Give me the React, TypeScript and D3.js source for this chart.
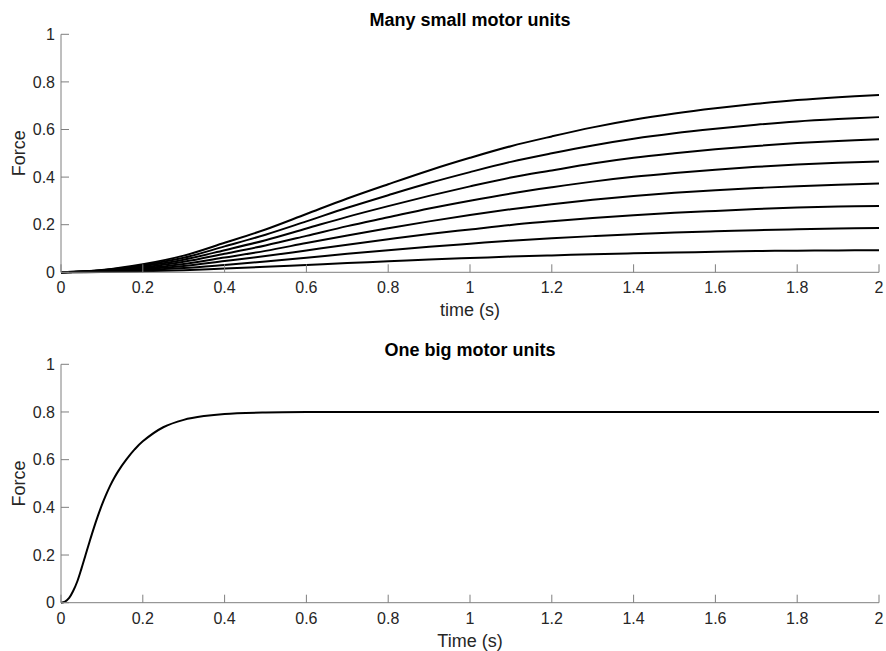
import React from "react";
import * as d3 from "d3";

// ---- Data ----
const timeSmall = [0, 0.1, 0.2, 0.3, 0.4, 0.5, 0.6, 0.7, 0.8, 0.9, 1.0, 1.1, 1.2, 1.3, 1.4, 1.5, 1.6, 1.7, 1.8, 1.9, 2.0];

const unit8 = [0, 0.010, 0.034, 0.070, 0.124, 0.180, 0.245, 0.310, 0.370, 0.428, 0.481, 0.530, 0.571, 0.609, 0.641, 0.667, 0.689, 0.708, 0.724, 0.736, 0.745];
const unit7 = [0, 0.009, 0.030, 0.061, 0.109, 0.158, 0.214, 0.271, 0.324, 0.375, 0.421, 0.464, 0.500, 0.533, 0.561, 0.584, 0.603, 0.620, 0.634, 0.644, 0.652];
const unit6 = [0, 0.008, 0.026, 0.053, 0.093, 0.135, 0.184, 0.233, 0.278, 0.321, 0.361, 0.398, 0.428, 0.457, 0.481, 0.500, 0.517, 0.531, 0.543, 0.552, 0.559];
const unit5 = [0, 0.006, 0.021, 0.044, 0.078, 0.113, 0.153, 0.194, 0.231, 0.268, 0.301, 0.331, 0.357, 0.381, 0.401, 0.417, 0.431, 0.443, 0.453, 0.460, 0.466];
const unit4 = [0, 0.005, 0.017, 0.035, 0.062, 0.090, 0.123, 0.155, 0.185, 0.214, 0.241, 0.265, 0.286, 0.305, 0.321, 0.334, 0.345, 0.354, 0.362, 0.368, 0.373];
const unit3 = [0, 0.004, 0.013, 0.026, 0.047, 0.068, 0.092, 0.116, 0.139, 0.161, 0.180, 0.199, 0.214, 0.228, 0.240, 0.250, 0.258, 0.266, 0.272, 0.276, 0.279];
const unit2 = [0, 0.003, 0.009, 0.018, 0.031, 0.045, 0.061, 0.078, 0.093, 0.107, 0.120, 0.133, 0.143, 0.152, 0.160, 0.167, 0.172, 0.177, 0.181, 0.184, 0.186];
const unit1 = [0, 0.001, 0.004, 0.009, 0.016, 0.023, 0.031, 0.039, 0.046, 0.054, 0.060, 0.066, 0.071, 0.076, 0.080, 0.083, 0.086, 0.089, 0.091, 0.092, 0.093];

const smallSeries = [unit1, unit2, unit3, unit4, unit5, unit6, unit7, unit8];

const timeBig = [0, 0.01, 0.02, 0.03, 0.04, 0.05, 0.06, 0.07, 0.08, 0.09, 0.10, 0.11, 0.12, 0.13, 0.14, 0.16, 0.18, 0.20, 0.25, 0.30, 0.35, 0.40, 0.50, 0.60, 0.80, 1.0, 1.5, 2.0];
const bigUnit = [0, 0.005, 0.02, 0.05, 0.09, 0.143, 0.20, 0.257, 0.312, 0.363, 0.41, 0.452, 0.49, 0.523, 0.552, 0.601, 0.643, 0.677, 0.736, 0.767, 0.783, 0.792, 0.798, 0.800, 0.800, 0.800, 0.800, 0.800];

const xTicks = [0, 0.2, 0.4, 0.6, 0.8, 1, 1.2, 1.4, 1.6, 1.8, 2];
const yTicks = [0, 0.2, 0.4, 0.6, 0.8, 1];

const titleTop = "Many small motor units";
const titleBottom = "One big motor units";
const xLabelTop = "time (s)";
const xLabelBottom = "Time (s)";
const yLabel = "Force";

// ---- Layout ----
const W = 886;
const H = 651;
const left = 61;
const right = 879;
const FONT = "'Liberation Sans', Arial, Helvetica, sans-serif";
const AXIS = "#7f7f7f";
const TEXT = "#262626";

type PanelProps = {
  top: number;
  bottom: number;
  title: string;
  xLabel: string;
  series: { t: number[]; v: number[] }[];
};

function Panel({ top, bottom, title, xLabel, series }: PanelProps) {
  const x = d3.scaleLinear().domain([0, 2]).range([left, right]);
  const y = d3.scaleLinear().domain([0, 1]).range([bottom, top]);
  const line = d3
    .line<[number, number]>()
    .x((d) => x(d[0]))
    .y((d) => y(d[1]))
    .curve(d3.curveCatmullRom.alpha(0.5));
  const tick = 8;
  const fmt = (v: number) => String(v);
  return (
    <g>
      {series.map((s, i) => (
        <path
          key={i}
          d={line(s.t.map((t, j) => [t, s.v[j]] as [number, number])) || ""}
          fill="none"
          stroke="#000"
          strokeWidth={2}
          strokeLinejoin="round"
        />
      ))}
      {/* axes */}
      <line x1={left} x2={right} y1={bottom} y2={bottom} stroke={AXIS} strokeWidth={1} />
      <line x1={left} x2={left} y1={top} y2={bottom} stroke={AXIS} strokeWidth={1} />
      {xTicks.map((t) => (
        <g key={"x" + t}>
          <line x1={x(t)} x2={x(t)} y1={bottom} y2={bottom - tick} stroke={AXIS} strokeWidth={1} />
          <text
            x={x(t)}
            y={bottom + 21}
            textAnchor="middle"
            fontSize={16}
            fontFamily={FONT}
            fill={TEXT}
          >
            {fmt(t)}
          </text>
        </g>
      ))}
      {yTicks.map((t) => (
        <g key={"y" + t}>
          <line x1={left} x2={left + tick} y1={y(t)} y2={y(t)} stroke={AXIS} strokeWidth={1} />
          <text
            x={left - 6}
            y={y(t)}
            dy="0.35em"
            textAnchor="end"
            fontSize={16}
            fontFamily={FONT}
            fill={TEXT}
          >
            {fmt(t)}
          </text>
        </g>
      ))}
      <text
        x={(left + right) / 2}
        y={top - 8}
        textAnchor="middle"
        fontSize={18}
        fontWeight="bold"
        fontFamily={FONT}
        fill="#000"
      >
        {title}
      </text>
      <text
        x={(left + right) / 2}
        y={bottom + 44}
        textAnchor="middle"
        fontSize={18}
        fontFamily={FONT}
        fill={TEXT}
      >
        {xLabel}
      </text>
      <text
        transform={`translate(25, ${(top + bottom) / 2}) rotate(-90)`}
        textAnchor="middle"
        fontSize={18}
        fontFamily={FONT}
        fill={TEXT}
      >
        {yLabel}
      </text>
    </g>
  );
}

export default function App() {
  const topSeries = smallSeries.map((v) => ({ t: timeSmall, v }));
  const bottomSeries = [{ t: timeBig, v: bigUnit }];
  return (
    <svg
      width={W}
      height={H}
      style={{ position: "absolute", left: 0, top: 0, background: "#fff" }}
    >
      <Panel top={34.3} bottom={272.3} title={titleTop} xLabel={xLabelTop} series={topSeries} />
      <Panel top={364.3} bottom={602.7} title={titleBottom} xLabel={xLabelBottom} series={bottomSeries} />
    </svg>
  );
}
